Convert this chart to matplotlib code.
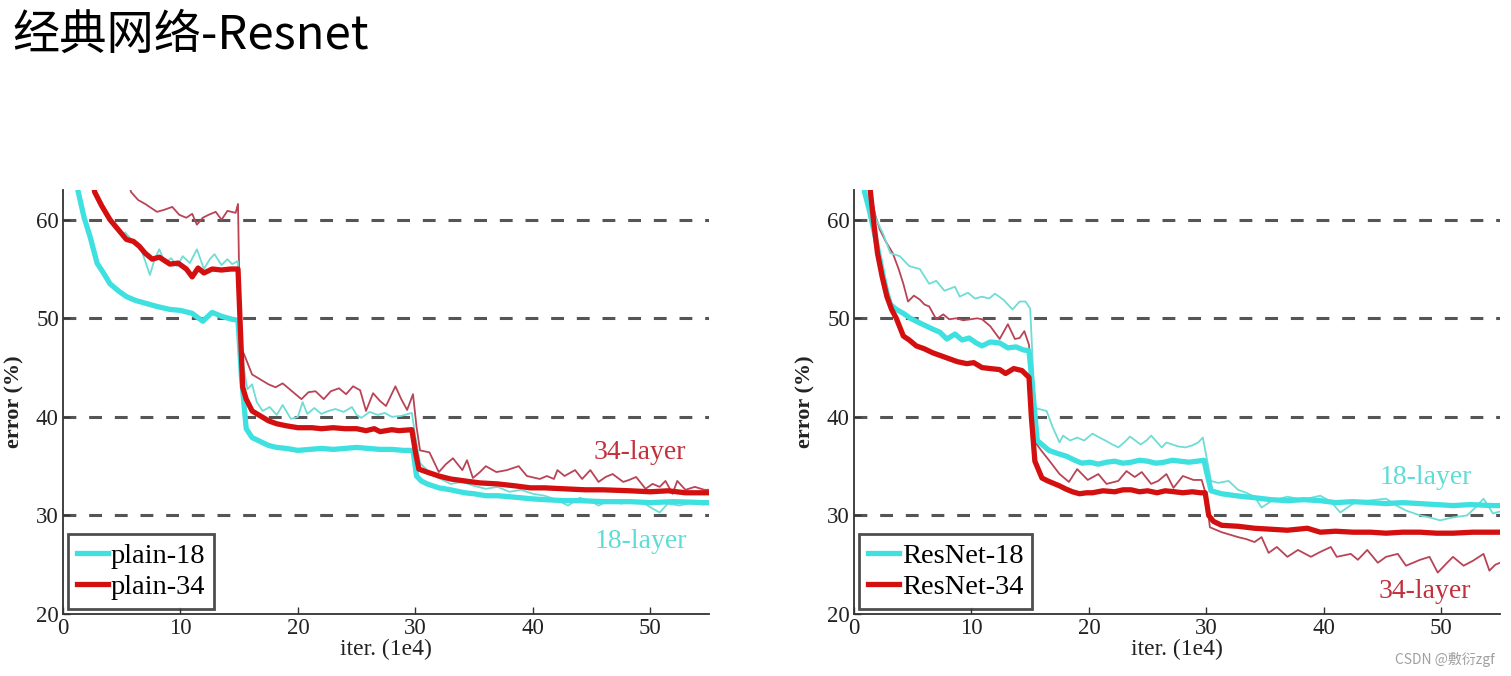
import matplotlib
matplotlib.use("Agg")
import matplotlib.pyplot as plt

# ---- data (x in 1e4 iters, y = error %) ----
# left panel: plain nets
plain18_train_x = [1.0, 1.3, 1.8, 2.3, 2.9, 3.5, 4.0, 4.7, 5.4, 6.2,
                   7.1, 8.0, 9.1, 10.0, 11.0, 11.9, 12.7, 13.5, 14.4, 14.9,
                   15.2, 15.6, 16.1, 16.8, 17.5, 18.2, 19.0, 20.0, 21.0, 22.0,
                   23.0, 24.0, 25.0, 26.0, 27.0, 28.0, 29.0, 29.8, 30.1, 30.5,
                   31.0, 32.0, 33.0, 34.2, 35.0, 36.0, 37.0, 38.0, 39.8, 41.0,
                   42.7, 44.0, 46.0, 48.3, 50.0, 52.0, 54.6, 55.0]
plain18_train_y = [65.0, 62.8, 60.2, 58.3, 55.6, 54.5, 53.5, 52.8, 52.2, 51.8,
                   51.5, 51.2, 50.9, 50.8, 50.5, 49.7, 50.6, 50.2, 49.9, 49.8,
                   44.0, 38.8, 37.9, 37.5, 37.1, 36.9, 36.8, 36.6, 36.7, 36.8,
                   36.7, 36.8, 36.9, 36.8, 36.7, 36.7, 36.6, 36.6, 34.0, 33.5,
                   33.2, 32.8, 32.6, 32.3, 32.2, 32.0, 32.0, 31.9, 31.7, 31.6,
                   31.5, 31.5, 31.4, 31.4, 31.3, 31.4, 31.3, 31.3]

plain34_train_x = [2.5, 2.7, 3.3, 4.0, 4.7, 5.4, 6.0, 6.5, 7.0, 7.6,
                   8.2, 9.1, 9.8, 10.5, 11.0, 11.5, 12.0, 12.7, 13.5, 14.3,
                   14.9, 15.1, 15.3, 15.6, 16.1, 16.8, 17.5, 18.2, 19.0, 20.0,
                   21.2, 22.0, 23.0, 24.0, 25.0, 25.8, 26.5, 27.0, 28.0, 28.6,
                   29.7, 30.0, 30.3, 31.0, 32.0, 33.0, 34.2, 35.5, 37.0, 38.5,
                   39.8, 41.0, 42.7, 44.5, 46.0, 48.3, 50.0, 51.5, 53.0, 54.6, 55.0]
plain34_train_y = [64.0, 62.8, 61.4, 60.0, 59.0, 58.0, 57.8, 57.3, 56.6, 56.0,
                   56.2, 55.5, 55.6, 55.0, 54.2, 55.1, 54.6, 55.0, 54.9, 55.0,
                   55.0, 49.0, 43.0, 41.8, 40.6, 40.1, 39.6, 39.3, 39.1, 38.9,
                   38.9, 38.8, 38.9, 38.8, 38.8, 38.6, 38.8, 38.5, 38.7, 38.6,
                   38.7, 36.5, 34.7, 34.4, 34.0, 33.7, 33.5, 33.3, 33.2, 33.0,
                   32.8, 32.8, 32.7, 32.6, 32.6, 32.5, 32.4, 32.5, 32.3, 32.3, 32.3]

plain34_test_x = [5.5, 5.8, 6.4, 7.0, 7.5, 8.0, 8.6, 9.3, 9.9, 10.5,
                  11.0, 11.4, 11.9, 12.4, 13.0, 13.5, 14.0, 14.7, 14.9, 15.1,
                  15.4, 16.1, 16.8, 17.5, 18.1, 18.7, 19.5, 20.3, 20.9, 21.5,
                  22.2, 22.8, 23.5, 24.1, 24.7, 25.3, 25.8, 26.4, 27.0, 27.5,
                  28.3, 28.8, 29.3, 29.8, 30.1, 30.4, 31.2, 32.0, 32.6, 33.2,
                  34.0, 34.4, 34.9, 35.5, 36.0, 36.9, 37.8, 38.8, 39.5, 40.6,
                  41.2, 41.8, 42.1, 42.7, 43.6, 44.2, 44.9, 45.6, 46.2, 46.8,
                  47.7, 48.2, 48.8, 49.6, 50.2, 50.8, 51.3, 51.9, 52.3, 53.0,
                  53.8, 54.6, 55.0]
plain34_test_y = [64.0, 62.8, 62.0, 61.6, 61.2, 60.8, 61.0, 61.3, 60.5, 60.2,
                  60.6, 59.5, 60.2, 60.5, 60.8, 60.0, 60.9, 60.7, 61.6, 47.0,
                  46.4, 44.3, 43.8, 43.3, 43.0, 43.4, 42.6, 41.8, 42.5, 42.6,
                  41.8, 42.6, 42.9, 42.3, 43.1, 42.7, 40.6, 42.4, 41.6, 41.1,
                  43.1, 41.8, 40.7, 42.3, 39.0, 36.6, 36.4, 34.4, 35.2, 35.8,
                  34.6, 35.6, 33.8, 34.4, 35.0, 34.4, 34.6, 35.0, 34.0, 33.7,
                  34.0, 33.7, 34.6, 34.0, 34.6, 33.7, 34.6, 33.4, 33.9, 34.2,
                  33.4, 33.6, 33.9, 32.7, 33.2, 32.9, 33.5, 32.2, 33.5, 32.6,
                  32.9, 32.6, 32.6]

plain18_test_x = [5.3, 5.8, 6.5, 7.0, 7.4, 7.8, 8.2, 8.7, 9.2, 9.7,
                  10.2, 10.8, 11.4, 12.0, 12.5, 12.9, 13.5, 14.0, 14.4, 14.9,
                  15.1, 15.7, 16.1, 16.5, 17.0, 17.6, 18.2, 18.7, 19.4, 20.0,
                  20.4, 20.8, 21.4, 22.0, 22.6, 23.2, 23.9, 24.6, 25.0, 25.4,
                  26.1, 26.8, 27.4, 28.0, 28.8, 29.7, 30.0, 30.4, 31.0, 32.0,
                  33.0, 34.0, 35.0, 36.0, 37.0, 38.0, 39.0, 40.0, 41.0, 42.0,
                  43.0, 44.0, 45.0, 45.6, 46.5, 47.5, 48.5, 49.5, 50.2, 50.8,
                  51.5, 52.5, 53.5, 54.5, 55.0]
plain18_test_y = [58.7, 58.0, 57.5, 55.8, 54.4, 56.0, 57.0, 55.6, 56.1, 55.3,
                  56.3, 55.6, 57.0, 55.0, 56.0, 56.5, 55.4, 56.0, 55.5, 55.8,
                  47.0, 42.8, 43.3, 41.5, 40.6, 41.0, 40.2, 41.2, 39.8, 40.0,
                  41.5, 40.3, 40.9, 40.3, 40.6, 40.8, 40.5, 41.0, 40.2, 39.9,
                  40.5, 40.2, 40.4, 40.0, 40.1, 40.4, 38.0, 35.3, 34.6, 33.8,
                  33.2, 33.4, 33.0, 32.7, 32.9, 32.4, 32.6, 32.2, 32.0, 31.6,
                  31.0, 31.8, 31.4, 31.0, 31.5, 31.2, 31.4, 31.2, 30.7, 30.3,
                  31.2, 31.0, 31.3, 31.1, 31.2]

# right panel: residual nets
res18_train_x = [0.7, 0.9, 1.3, 1.8, 2.2, 2.5, 2.8, 3.1, 3.6, 4.2,
                 4.8, 5.3, 6.0, 6.7, 7.3, 7.9, 8.6, 9.2, 9.8, 10.4,
                 10.9, 11.6, 12.4, 13.1, 13.8, 14.4, 14.9, 15.2, 15.6, 16.0,
                 16.6, 17.3, 18.1, 18.8, 19.4, 20.1, 20.8, 21.5, 22.2, 22.9,
                 23.6, 24.3, 25.0, 25.7, 26.4, 27.1, 27.8, 28.5, 29.2, 29.8,
                 30.0, 30.4, 31.3, 32.5, 34.1, 35.5, 36.9, 38.3, 39.7, 41.0,
                 42.5, 44.0, 45.3, 46.7, 48.2, 49.6, 51.0, 52.5, 54.4, 55.0]
res18_train_y = [65.0, 62.8, 61.0, 58.3, 56.0, 54.2, 52.6, 51.4, 50.9, 50.5,
                 50.0, 49.7, 49.3, 48.9, 48.6, 47.9, 48.4, 47.8, 48.0, 47.5,
                 47.2, 47.6, 47.5, 47.0, 47.1, 46.8, 46.7, 43.0, 37.6, 37.2,
                 36.6, 36.3, 36.0, 35.6, 35.3, 35.4, 35.2, 35.4, 35.5, 35.3,
                 35.4, 35.6, 35.5, 35.3, 35.4, 35.6, 35.5, 35.4, 35.5, 35.6,
                 34.5, 32.5, 32.2, 32.0, 31.8, 31.6, 31.5, 31.6, 31.5, 31.3,
                 31.4, 31.3, 31.2, 31.3, 31.2, 31.1, 31.0, 31.1, 31.0, 31.0]

res34_train_x = [1.2, 1.4, 1.7, 2.0, 2.4, 2.8, 3.2, 3.6, 4.2, 4.7,
                 5.3, 6.0, 6.7, 7.4, 8.1, 8.8, 9.6, 10.2, 10.9, 11.6,
                 12.4, 12.9, 13.6, 14.3, 14.9, 15.1, 15.4, 16.0, 16.5, 17.1,
                 17.5, 18.0, 18.6, 19.2, 19.8, 20.3, 21.2, 22.2, 22.9, 23.6,
                 24.3, 25.0, 25.8, 26.5, 27.3, 28.0, 28.8, 29.5, 29.9, 30.2,
                 30.6, 31.3, 32.7, 34.1, 35.5, 36.9, 38.6, 39.7, 41.0, 42.5,
                 44.0, 45.3, 46.7, 48.2, 49.6, 51.0, 52.7, 54.4, 55.0]
res34_train_y = [65.0, 62.8, 59.5, 56.6, 54.2, 52.2, 50.9, 50.0, 48.2, 47.8,
                 47.2, 46.9, 46.5, 46.2, 45.9, 45.6, 45.4, 45.5, 45.0, 44.9,
                 44.8, 44.4, 44.9, 44.7, 44.0, 40.0, 35.5, 33.8, 33.5, 33.2,
                 33.0, 32.7, 32.4, 32.2, 32.3, 32.3, 32.5, 32.4, 32.6, 32.6,
                 32.4, 32.5, 32.3, 32.5, 32.4, 32.3, 32.4, 32.3, 32.3, 30.0,
                 29.4, 29.0, 28.9, 28.7, 28.6, 28.5, 28.7, 28.3, 28.4, 28.3,
                 28.3, 28.2, 28.3, 28.3, 28.2, 28.2, 28.3, 28.3, 28.3]

res34_test_x = [1.2, 1.4, 1.8, 2.2, 2.7, 3.3, 3.8, 4.2, 4.6, 5.1,
                5.6, 6.0, 6.4, 7.0, 7.6, 8.1, 8.7, 9.3, 9.9, 10.5,
                10.9, 11.6, 12.4, 13.1, 13.7, 14.1, 14.5, 14.9, 15.1, 15.5,
                16.0, 16.6, 17.5, 18.3, 19.0, 19.9, 20.8, 21.5, 22.5, 23.2,
                23.9, 24.5, 25.3, 25.9, 26.6, 27.2, 28.0, 28.9, 29.6, 30.0,
                30.3, 31.3, 32.7, 33.4, 34.1, 34.7, 35.3, 36.0, 36.9, 37.8,
                38.9, 39.7, 40.6, 41.1, 42.3, 42.9, 43.7, 44.6, 45.3, 46.3,
                47.0, 48.2, 49.0, 49.7, 50.5, 51.0, 51.9, 52.7, 53.6, 54.1,
                54.6, 55.0]
res34_test_y = [65.0, 62.8, 60.5, 59.0, 57.8, 56.6, 55.0, 53.5, 51.7, 52.3,
                51.9, 51.4, 51.2, 49.9, 50.4, 49.9, 50.0, 49.8, 49.9, 50.0,
                49.9, 49.2, 47.9, 49.4, 47.9, 48.0, 48.7, 47.3, 44.0, 37.3,
                36.5, 35.6, 34.2, 33.4, 34.7, 33.6, 34.2, 33.2, 33.5, 34.5,
                33.9, 34.4, 33.2, 33.5, 34.2, 32.8, 34.0, 33.6, 33.6, 32.0,
                28.8, 28.3, 27.8, 27.6, 27.3, 27.8, 26.2, 26.8, 25.8, 26.5,
                25.8, 26.3, 26.8, 25.8, 26.1, 25.5, 26.5, 25.2, 25.8, 26.1,
                24.9, 25.5, 25.8, 24.2, 25.2, 25.8, 24.9, 25.4, 26.1, 24.4,
                25.0, 25.2]

res18_test_x = [0.7, 0.9, 1.4, 1.9, 2.5, 3.1, 3.9, 4.7, 5.6, 6.4,
                7.0, 7.7, 8.6, 9.0, 9.7, 10.3, 10.9, 11.5, 12.0, 12.7,
                13.5, 14.1, 14.6, 15.0, 15.2, 15.4, 16.4, 16.9, 17.5, 17.8,
                18.4, 19.0, 19.6, 20.3, 20.9, 21.4, 22.0, 22.5, 23.0, 23.5,
                24.4, 24.9, 25.3, 26.2, 26.6, 27.1, 27.6, 28.2, 28.8, 29.3,
                29.7, 30.0, 30.4, 31.0, 31.9, 32.7, 33.4, 34.1, 34.7, 35.6,
                36.9, 38.2, 39.7, 40.6, 41.4, 42.5, 43.8, 45.3, 46.2, 47.0,
                48.2, 49.0, 49.9, 51.0, 52.2, 52.9, 53.6, 54.4, 55.0]
res18_test_y = [65.0, 62.8, 61.5, 60.0, 58.5, 56.6, 56.3, 55.3, 55.0, 53.5,
                53.8, 52.8, 53.2, 52.2, 52.6, 52.0, 52.2, 52.0, 52.5, 51.9,
                50.9, 51.7, 51.7, 51.0, 46.0, 40.9, 40.6, 39.0, 37.4, 38.1,
                37.6, 37.9, 37.6, 38.3, 37.9, 37.6, 37.2, 36.9, 37.4, 38.0,
                37.2, 37.6, 38.1, 36.9, 37.4, 37.2, 37.0, 36.9, 37.1, 37.4,
                37.9, 36.0, 33.5, 33.3, 33.5, 32.6, 32.3, 31.9, 30.8, 31.5,
                31.9, 31.6, 32.0, 31.4, 30.3, 31.2, 31.5, 31.7, 31.0, 30.5,
                30.0, 29.8, 29.5, 29.8, 30.0, 30.8, 31.7, 30.2, 30.4]

grid_levels = [30, 40, 50, 60]
x_ticks = [0, 10, 20, 30, 40, 50]
y_ticks = [20, 30, 40, 50, 60]

# colours
cyan = "#3fe0e0"
red = "#d40f10"
cyan_thin = "#6fdcd6"
red_thin = "#b84456"
serif = "Liberation Serif"


def draw_panel(ax, thin_curves, thick_curves, labels, notes):
    for gy in grid_levels:
        ax.axhline(gy, color="#555555", lw=2.2, dashes=(4.2, 4.2), zorder=1)
    for xs, ys, col in thin_curves:
        ax.plot(xs, ys, color=col, lw=1.3, zorder=2)
    handles = []
    for (xs, ys, col), lab in zip(thick_curves, labels):
        h, = ax.plot(xs, ys, color=col, lw=3.8, zorder=3, label=lab,
                     solid_joinstyle="round")
        handles.append(h)
    ax.set_xlim(0, 55)
    ax.set_ylim(20, 63)
    ax.set_xticks(x_ticks)
    ax.set_yticks(y_ticks)
    for s in ["top", "right"]:
        ax.spines[s].set_visible(False)
    for s in ["left", "bottom"]:
        ax.spines[s].set_color("#333333")
        ax.spines[s].set_linewidth(1.3)
    ax.tick_params(direction="in", length=5, width=1, colors="#333333",
                   labelcolor="#222222", labelsize=16.5, pad=3)
    for lbl in ax.get_xticklabels() + ax.get_yticklabels():
        lbl.set_family(serif)
    ax.set_xlabel("iter. (1e4)", family=serif, fontsize=17, color="#222222",
                  labelpad=0)
    ax.set_ylabel("error (%)", family=serif, fontsize=16, color="#222222",
                  fontweight="bold", labelpad=8)
    leg = ax.legend(handles=handles, loc="lower left",
                    bbox_to_anchor=(0.008, 0.012), borderaxespad=0,
                    prop={"family": serif, "size": 20.5}, frameon=True,
                    fancybox=False, handlelength=1.1, handletextpad=0.1,
                    labelspacing=0.2, borderpad=0.3)
    leg.get_frame().set_edgecolor("#222222")
    leg.get_frame().set_linewidth(2.0)
    for txt, x, y, col in notes:
        ax.text(x, y, txt, color=col, family=serif, fontsize=20,
                ha="center", va="center", zorder=4)


fig = plt.figure(figsize=(15.11, 6.76), dpi=100)
ax1 = fig.add_axes([0.0417, 0.0917, 0.4275, 0.627])
ax2 = fig.add_axes([0.5652, 0.0917, 0.4275, 0.627])

draw_panel(ax1,
           [(plain34_test_x, plain34_test_y, red_thin),
            (plain18_test_x, plain18_test_y, cyan_thin)],
           [(plain18_train_x, plain18_train_y, cyan),
            (plain34_train_x, plain34_train_y, red)],
           ["plain-18", "plain-34"],
           [("34-layer", 49.1, 36.4, "#c2303c"),
            ("18-layer", 49.2, 27.4, "#5edcd6")])

draw_panel(ax2,
           [(res34_test_x, res34_test_y, red_thin),
            (res18_test_x, res18_test_y, cyan_thin)],
           [(res18_train_x, res18_train_y, cyan),
            (res34_train_x, res34_train_y, red)],
           ["ResNet-18", "ResNet-34"],
           [("18-layer", 48.7, 33.8, "#5edcd6"),
            ("34-layer", 48.6, 22.3, "#c2303c")])

fig.text(0.008, 0.948, "经典网络-Resnet", fontsize=34,
         family=["Noto Sans CJK SC", "DejaVu Sans"], va="center", ha="left")
fig.text(0.923, 0.025, "CSDN @敷衍zgf", fontsize=10, color="#a0a0a0",
         family=["Noto Sans CJK SC", "DejaVu Sans"], va="center", ha="left")

fig.savefig("out.png", dpi=100)
